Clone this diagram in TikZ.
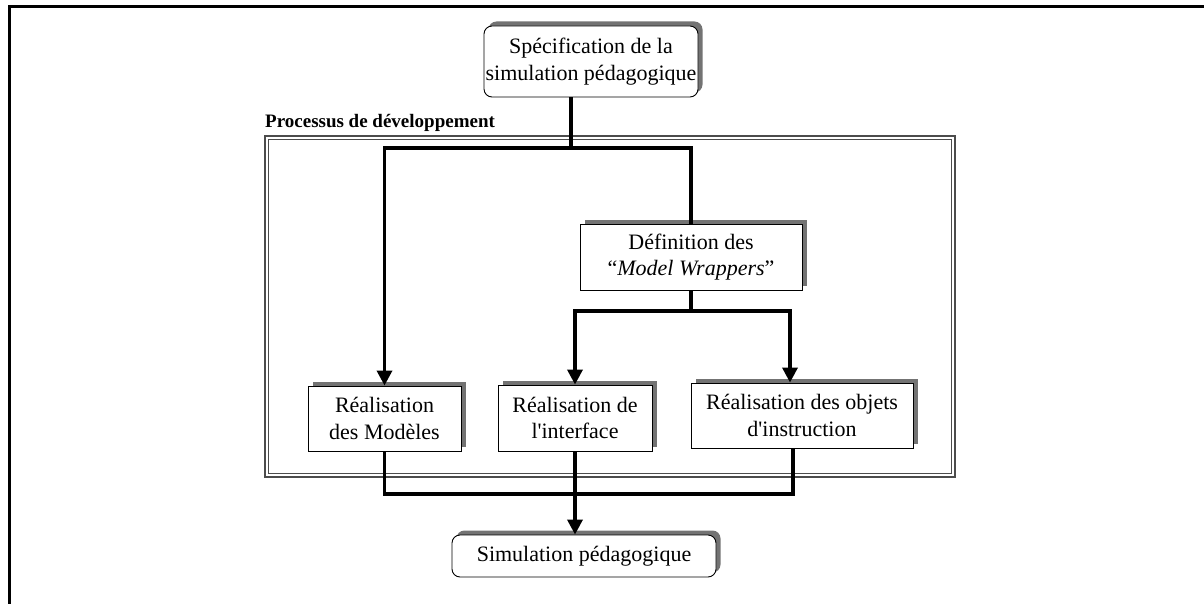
\documentclass[tikz,border=0pt]{standalone}
\usepackage{fontspec}
\setmainfont{Liberation Serif}
\usetikzlibrary{arrows.meta,shadows}

\begin{document}
\begin{tikzpicture}[
  x=1pt, y=-1pt,
  every node/.style={font=\fontsize{22}{26.5}\selectfont, align=center, inner sep=0pt},
  box/.style={draw, fill=white, line width=0.9pt,
    general shadow={fill=black!55, shadow xshift=4.5pt, shadow yshift=4.5pt}},
  round box/.style={box, rounded corners=8pt},
  link/.style={line width=3.4pt},
  flow/.style={link, -{Triangle[length=15pt,width=15pt]}},
  frame line/.style={line width=3pt},
  process frame/.style={draw=black!70, line width=1.3pt}
  ]
  \useasboundingbox (0,0) rectangle (1204,604);
  \draw[frame line] (1204,7) -- (9,7) -- (9,604);

  % development process
  \draw[process frame] (265,136) rectangle (955,477);
  \draw[process frame, line width=1pt] (268.5,139.5) rectangle (951.5,473.5);
  \node[anchor=base west, font=\fontsize{19}{22}\selectfont\bfseries] (proc) at (265,128) {Processus de développement};

  \node[round box, minimum width=214pt, minimum height=71pt] (spec) at (591,61.5) {Spécification de la\\simulation pédagogique};
  \node[box, minimum width=222pt, minimum height=66pt] (defmw) at (691,257) {Définition des\\“\textit{Model Wrappers}”};
  \node[box, minimum width=153pt, minimum height=65pt] (modeles) at (384.5,418.5) {Réalisation\\des Modèles};
  \node[box, minimum width=154pt, minimum height=66pt] (interface) at (575,418) {Réalisation de\\l\textquotesingle interface};
  \node[box, minimum width=222pt, minimum height=65pt] (objets) at (802,415.5) {Réalisation des objets\\d\textquotesingle instruction};
  \node[round box, minimum width=264pt, minimum height=42pt] (simul) at (584,556) {Simulation pédagogique};

  \coordinate (split1) at (571,148);
  \coordinate (split2) at (691,311);
  \coordinate (join) at (575,494);
  \coordinate (objout) at ([xshift=-9pt]objets.south);

  \draw[link] (spec.south -| split1) -- (split1);
  \draw[flow] (split1) -| (modeles.north);
  \draw[link] (split1) -| (defmw.north);
  \draw[link] (defmw.south) -- (split2);
  \draw[flow] (split2) -| (interface.north);
  \draw[flow] (split2) -| ([xshift=-12pt]objets.north);
  \draw[link] (modeles.south) |- (objout |- join) -- (objout);
  \draw[flow] (interface.south) -- (interface.south |- simul.north);
\end{tikzpicture}
\end{document}
